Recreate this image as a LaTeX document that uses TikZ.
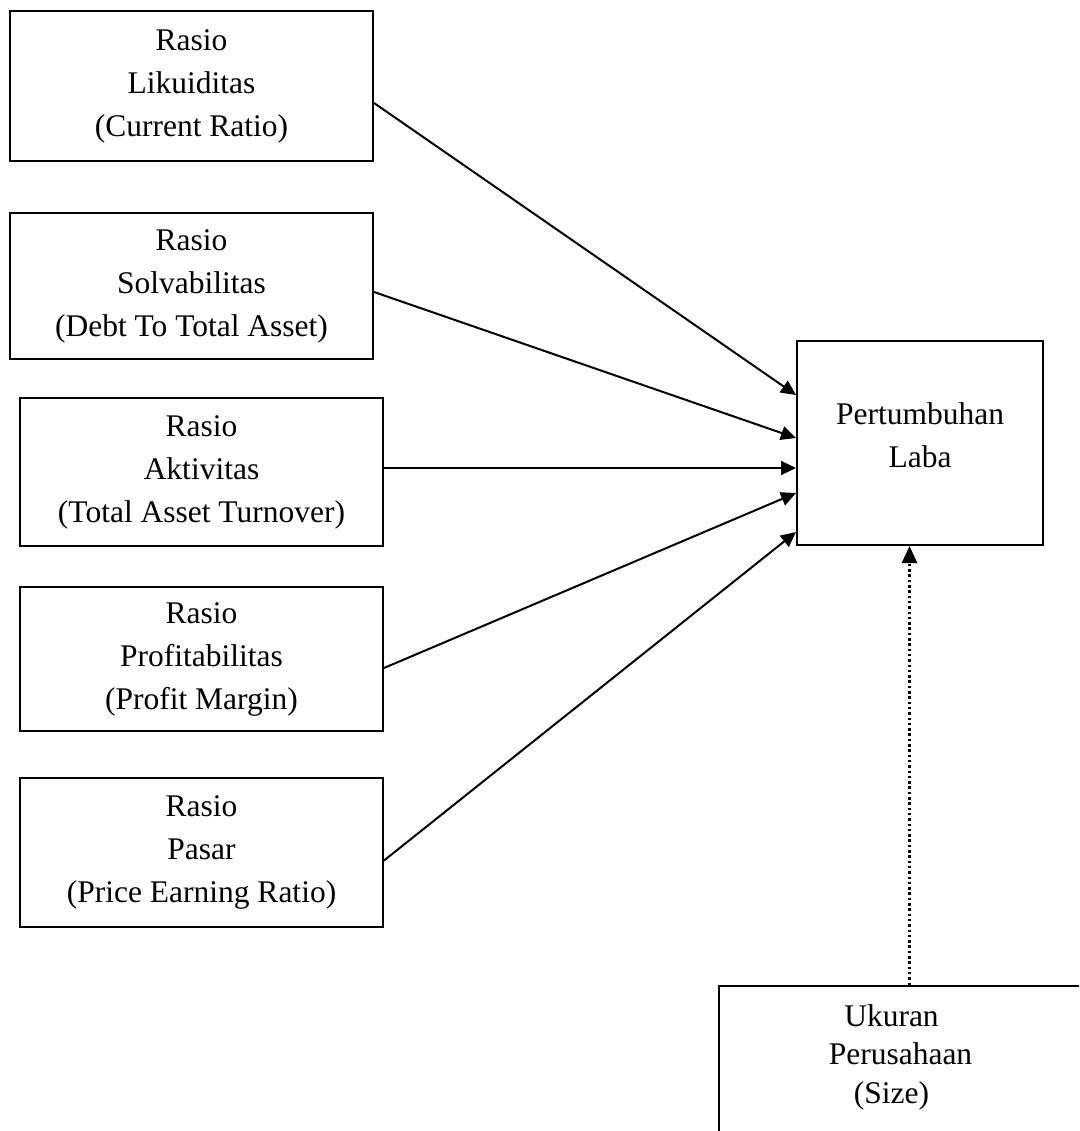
\documentclass[tikz,border=0pt]{standalone}
\usepackage{fontspec}
\setmainfont{Liberation Serif}
\usetikzlibrary{arrows.meta}
\begin{document}
\begin{tikzpicture}[x=1pt,y=-1pt,
  txt/.style={align=center, inner sep=0pt, font=\fontsize{31.5}{43}\selectfont},
  box/.style={draw, line width=2pt, inner sep=0pt, txt},
  arr/.style={line width=2pt, -{Triangle[length=15pt,width=14pt]}},
  dotarr/.style={line width=2.5pt, dash pattern=on 2.5pt off 2.8pt, -{Triangle[length=17pt,width=15pt]}}]
\useasboundingbox (0,0) rectangle (1079,1131);
\clip (0,0) rectangle (1079,1131);
\node[box, minimum width=363pt, minimum height=150pt] (b1) at (191.5,86) {Rasio\\Likuiditas\\(Current Ratio)};
\node[box, minimum width=363pt, minimum height=146pt] (b2) at (191.5,286) {Rasio\\Solvabilitas\\(Debt To Total Asset)};
\node[box, minimum width=363pt, minimum height=148pt] (b3) at (201.5,472) {Rasio\\Aktivitas\\(Total Asset Turnover)};
\node[box, minimum width=363pt, minimum height=144pt] (b4) at (201.5,659) {Rasio\\Profitabilitas\\(Profit Margin)};
\node[box, minimum width=363pt, minimum height=149pt] (b5) at (201.5,852.5) {Rasio\\Pasar\\(Price Earning Ratio)};
\node[box, minimum width=246pt, minimum height=204pt] (pl) at (920,443) {};
\node[txt] (pltext) at (920,435) {Pertumbuhan\\Laba};
\node[box, minimum width=381pt, minimum height=180pt] (uk) at (909.5,1076) {};
\node[txt, font=\fontsize{31.5}{38.5}\selectfont] (uktext) at (891.5,1057) {Ukuran\\\hspace*{18pt}Perusahaan\\(Size)};
\draw[arr] ([yshift=-17pt]b1.east) -- ([yshift=48pt]pl.west);
\draw[arr] ([yshift=-6pt]b2.east) -- ([yshift=5pt]pl.west);
\draw[arr] ([yshift=4pt]b3.east) -- ([yshift=-25pt]pl.west);
\draw[arr] ([yshift=-9pt]b4.east) -- ([yshift=-50pt]pl.west);
\draw[arr] ([yshift=-8pt]b5.east) -- ([yshift=-89pt]pl.west);
\draw[dotarr] (uk.north) -- (uk.north |- pl.south);
\end{tikzpicture}
\end{document}
